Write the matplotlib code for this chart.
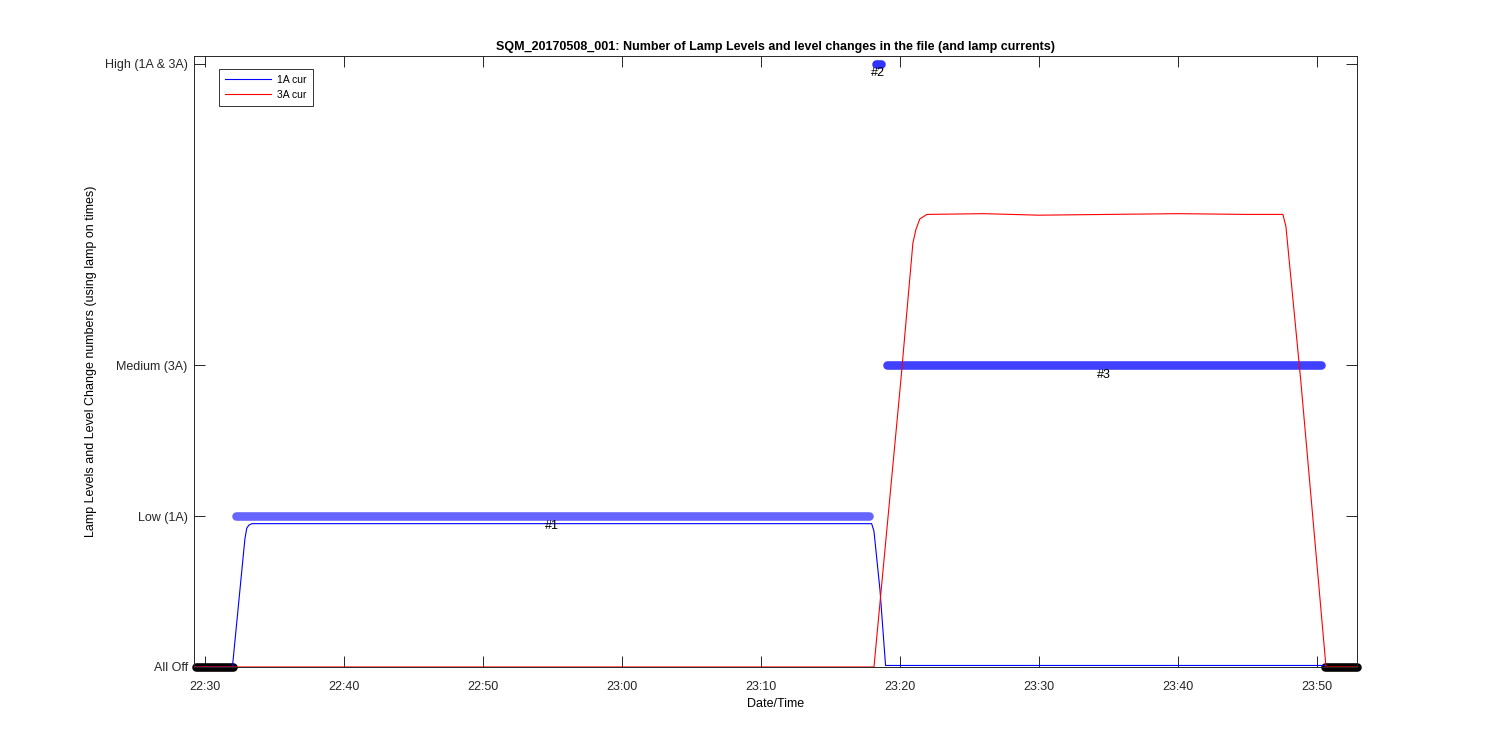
import matplotlib.pyplot as plt
import matplotlib.dates as mdates
import pandas as pd

plt.rcParams["font.family"] = ["Liberation Sans", "DejaVu Sans"]
plt.rcParams["font.size"] = 9

day = "2017-05-08 "

# lamp current traces (A)
cur1_time = ["22:29:13", "22:31:59", "22:32:53", "22:33:01", "22:33:10", "22:33:23",
             "23:17:58", "23:18:08", "23:18:34", "23:18:58", "23:50:35"]
cur1_val = [0.0, 0.0, 0.85, 0.92, 0.94, 0.95, 0.95, 0.90, 0.51, 0.01, 0.01]

cur3_time = ["22:29:13", "23:18:08", "23:20:04", "23:20:56", "23:21:09", "23:21:26",
             "23:21:56", "23:26:00", "23:30:00", "23:35:00", "23:40:00", "23:45:00",
             "23:47:33", "23:47:46", "23:48:50", "23:50:39", "23:52:53"]
cur3_val = [0.0, 0.0, 1.9, 2.81, 2.9, 2.97, 3.0, 3.005, 2.995, 3.0, 3.005, 3.0,
            3.0, 2.92, 1.9, 0.0, 0.0]

# lamp level segments (level change numbers)
seg_start = ["22:29:21", "22:32:14", "23:18:16", "23:19:04", "23:50:35"]
seg_end = ["22:32:01", "23:17:46", "23:18:38", "23:50:17", "23:52:53"]
seg_level = [0, 1, 4, 2, 0]
seg_label = ["", "#1", "#2", "#3", ""]
seg_color = ["black", "#6666ff", "#3333ff", "#4040ff", "black"]

level_ticks = [0, 1, 2, 4]
level_names = ["All Off", "Low (1A)", "Medium (3A)", "High (1A & 3A)"]

def to_dt(times):
    return pd.to_datetime([day + t for t in times])

fig = plt.figure(figsize=(15, 7.5), dpi=100)
ax = fig.add_axes([0.1293, 0.1107, 0.7754, 0.8146])

t0 = to_dt(seg_start)
t1 = to_dt(seg_end)
for a, b, lev, lab, col in zip(t0, t1, seg_level, seg_label, seg_color):
    ax.plot([a, b], [lev, lev], color=col, lw=6.2, solid_capstyle="round",
            clip_on=False, zorder=2)
    if lab:
        mid = a + (b - a) / 2
        ax.text(mid, lev - 0.025, lab, ha="center", va="top", fontsize=9, zorder=5)

ax.plot(to_dt(cur1_time), cur1_val, color="blue", lw=0.8, label="1A cur", zorder=3)
ax.plot(to_dt(cur3_time), cur3_val, color="red", lw=0.8, label="3A cur", zorder=4)

ax.set_xlim(pd.Timestamp(day + "22:29:13"), pd.Timestamp(day + "23:52:53"))
ax.set_ylim(0, 4.05)
ax.set_yticks(level_ticks)
ax.set_yticklabels(level_names)
ax.xaxis.set_major_locator(mdates.MinuteLocator(byminute=[0, 10, 20, 30, 40, 50]))
ax.xaxis.set_major_formatter(mdates.DateFormatter("%H:%M"))
ax.tick_params(direction="in", length=8, width=0.7, top=True, right=True,
               labelsize=9, colors="#262626")
ax.tick_params(axis="x", pad=10)
ax.tick_params(axis="y", pad=4.5)
for s in ax.spines.values():
    s.set_linewidth(0.7)
    s.set_color("#262626")

ax.set_title("SQM_20170508_001: Number of Lamp Levels and level changes in the file (and lamp currents)",
             fontsize=9, fontweight="bold", pad=4)
ax.set_xlabel("Date/Time", fontsize=9, labelpad=3.5)
ax.set_ylabel("Lamp Levels and Level Change numbers (using lamp on times)", fontsize=9, labelpad=5.5)

leg = ax.legend(loc="upper left", bbox_to_anchor=(0.0215, 0.979), borderaxespad=0,
                fontsize=7.5, handlelength=4.4, handletextpad=0.55, frameon=True,
                fancybox=False, borderpad=0.6, labelspacing=0.45)
leg.get_frame().set_edgecolor("black")
leg.get_frame().set_linewidth(0.7)

fig.savefig("out.png", dpi=100)
